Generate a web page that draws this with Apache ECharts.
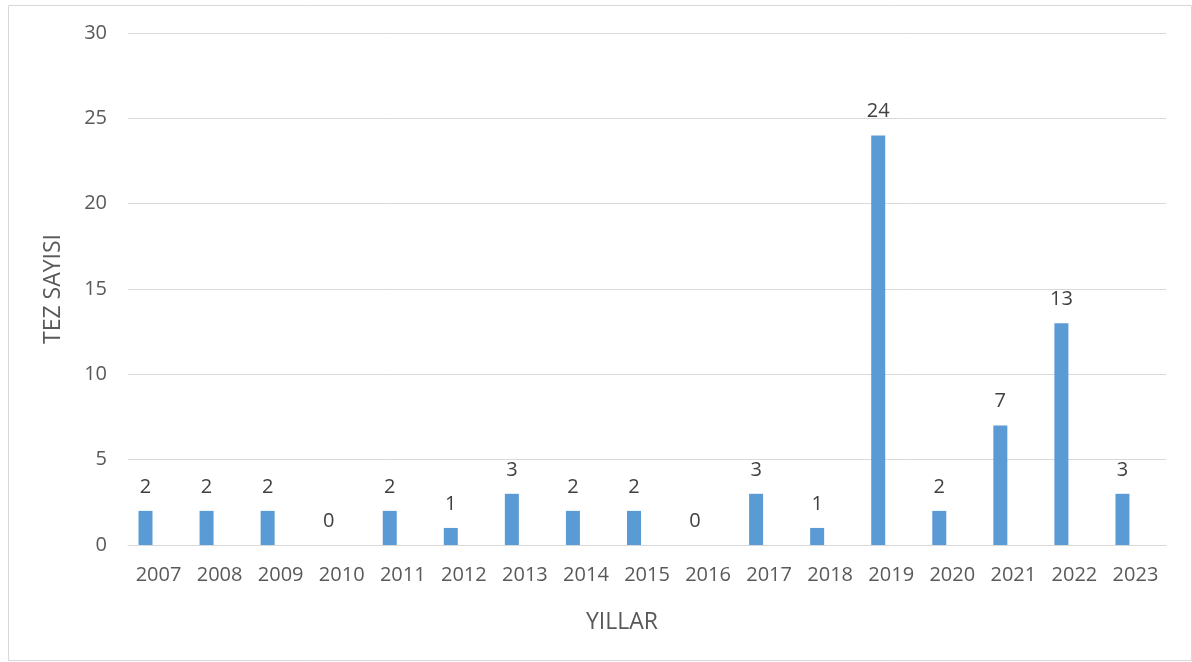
<!DOCTYPE html>
<html><head><meta charset="utf-8">
<script src="https://cdn.jsdelivr.net/npm/echarts@6/dist/echarts.min.js"></script>
<style>html,body{margin:0;padding:0;background:#fff}#c{width:1192px;height:662px}</style>
</head><body><div id="c"></div>
<script>
const years = ['2007','2008','2009','2010','2011','2012','2013','2014','2015','2016','2017','2018','2019','2020','2021','2022','2023'];
const counts = [2,2,2,0,2,1,3,2,2,0,3,1,24,2,7,13,3];
const emptySeries = years.map(() => null);
const font = 'Open Sans';
const chart = echarts.init(document.getElementById('c'));
chart.setOption({
  animation: false,
  graphic: [{type:'rect', shape:{x:8.5,y:5.5,width:1183,height:655}, style:{fill:'none', stroke:'#d9d9d9', lineWidth:1}}],
  grid: {left:128, right:26, top:33, bottom:117},
  xAxis: {
    type:'category', data: years,
    name:'YILLAR', nameLocation:'middle', nameGap:66,
    nameTextStyle:{fontSize:23, color:'#595959', fontFamily:font, padding:[0,50,0,0]},
    axisLine:{lineStyle:{color:'#d9d9d9'}}, axisTick:{show:false},
    axisLabel:{fontSize:20, color:'#595959', fontFamily:font, margin:20}
  },
  yAxis: {
    type:'value', min:0, max:30, interval:5,
    name:'TEZ SAYISI', nameLocation:'middle', nameGap:63,
    nameTextStyle:{fontSize:23, color:'#595959', fontFamily:font},
    axisLine:{show:false}, axisTick:{show:false},
    axisLabel:{fontSize:20, color:'#595959', fontFamily:font, margin:21},
    splitLine:{lineStyle:{color:'#d9d9d9'}}
  },
  series: [{
    type:'bar', data: counts, barWidth:14, barGap:'86%',
    itemStyle:{color:'#5b9bd5'},
    label:{show:true, position:'top', distance:14, fontSize:20, color:'#404040', fontFamily:font}
  },{
    type:'bar', data: emptySeries, barWidth:14,
    itemStyle:{color:'#ed7d31'}
  }]
});
</script></body></html>
